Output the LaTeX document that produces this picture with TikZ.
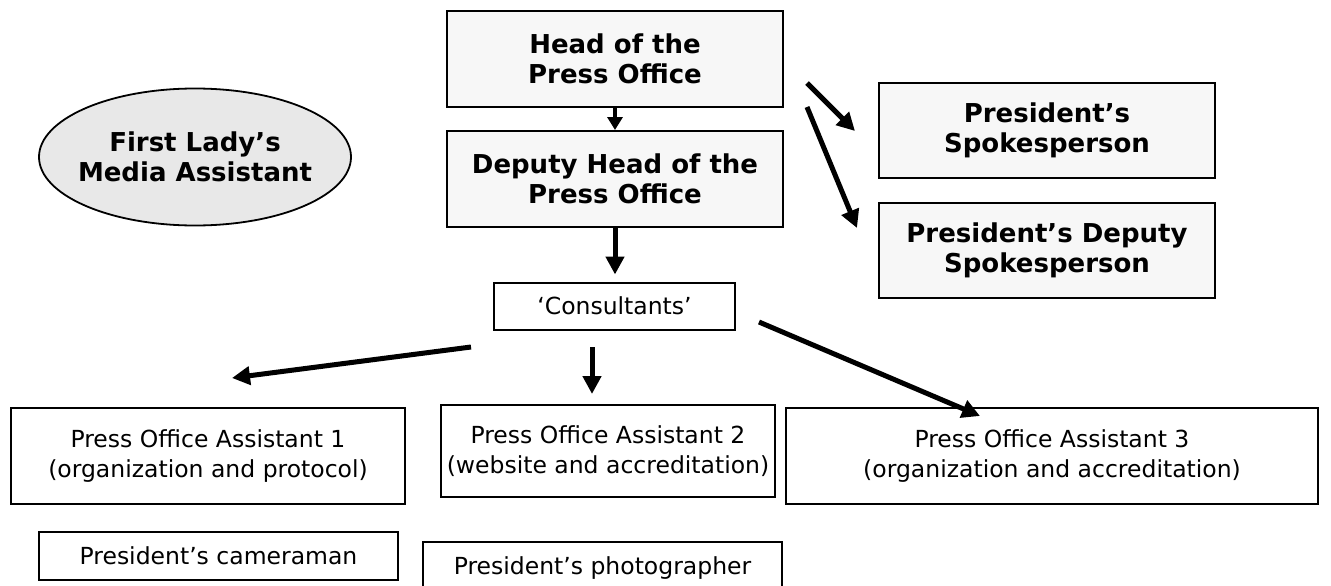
\documentclass[tikz,border=0pt]{standalone}
\usepackage{fontspec}
\setmainfont{DejaVu Sans}
\usetikzlibrary{arrows.meta,shapes.geometric,calc}
\definecolor{topfill}{HTML}{F7F7F7}
\definecolor{ellfill}{HTML}{E8E8E8}
\begin{document}
\begin{tikzpicture}[x=1pt,y=-1pt,
  boldbox/.style={draw,line width=2pt,fill=topfill,inner sep=0pt,align=center,
    font=\fontsize{26}{30}\selectfont\bfseries,minimum width=336pt,minimum height=96pt},
  plainbox/.style={draw,line width=2pt,fill=white,inner sep=0pt,align=center,
    font=\fontsize{23.5}{29.5}\selectfont},
  smallarr/.style={line width=4pt,-{Triangle[length=13pt,width=15pt]}},
  arr/.style={line width=5pt,-{Triangle[length=18pt,width=18pt]}}]
\clip (0,0) rectangle (1331,586);
\fill[white] (0,0) rectangle (1331,586);

% top boxes
\node[boldbox] (head) at (615,59) {Head of the\\Press Office};
\node[boldbox] (deputy) at (615,179) {Deputy Head of the\\Press Office};
\node[boldbox,minimum height=95pt] (spok) at (1047,130.5) {President’s\\Spokesperson};
\node[boldbox,minimum height=95pt] (dspok) at (1047,250.5) {President’s Deputy\\Spokesperson};

% ellipse
\node[ellipse,draw,line width=1.8pt,fill=ellfill,minimum width=312pt,minimum height=137pt,
  inner sep=0pt] (lady) at (195,157) {};
\node[align=center,inner sep=0pt,font=\fontsize{26}{30}\selectfont\bfseries] (ladytext) at (lady.center)
  {First Lady’s\\Media Assistant};

% consultants
\node[plainbox,minimum width=241pt,minimum height=47pt] (cons) at (614.5,306) {‘Consultants’};

% assistants
\node[plainbox,minimum width=394pt,minimum height=96pt] (a1) at (208,456)
  {Press Office Assistant 1\\(organization and protocol)};
\node[plainbox,minimum width=334pt,minimum height=92pt] (a2) at (608,451)
  {Press Office Assistant 2\\(website and accreditation)};
\node[plainbox,minimum width=532pt,minimum height=96pt] (a3) at (1052,456)
  {Press Office Assistant 3\\(organization and accreditation)};

% bottom
\node[plainbox,minimum width=359pt,minimum height=48pt] (cam) at (218.5,556) {President’s cameraman};
\node[plainbox,minimum width=359pt,minimum height=52pt] (photo) at (602.5,568) {President’s photographer};

% connector end points
\coordinate (d1s) at (807,83);
\coordinate (d1e) at (855,131);
\coordinate (d2s) at (807,107);
\coordinate (d2e) at (857,228);
\coordinate (c1s) at (471,347);
\coordinate (c1e) at (232,378);
\coordinate (c2s) at (592,347);
\coordinate (c2e) at (592,394);
\coordinate (c3s) at (759,322);
\coordinate (c3e) at (980,416);

% connectors
\draw[smallarr] (head.south) -- (deputy.north);
\draw[arr,shorten >=7pt] (deputy.south) -- (deputy.south |- cons.north);
\draw[arr] (d1s) -- (d1e);
\draw[arr] (d2s) -- (d2e);
\draw[arr] (c1s) -- (c1e);
\draw[arr] (c2s) -- (c2e);
\draw[arr] (c3s) -- (c3e);
\end{tikzpicture}
\end{document}
